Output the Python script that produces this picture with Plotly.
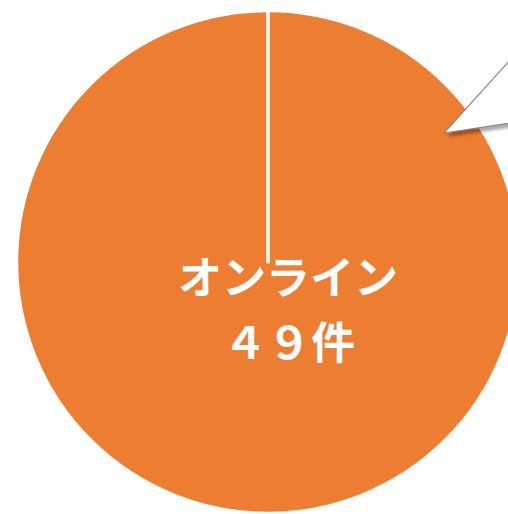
import plotly.graph_objects as go

labels = ["オンライン", "対面"]
values = [49, 0]
unit = "件"
colors = ["#ED7D31", "#A5A5A5"]

W, H = 530, 514
cx, cy, R = 268, 262, 251.5

def px(x):
    return x / W

def py(y):
    return 1 - y / H

fig = go.Figure()
fig.add_trace(go.Pie(
    labels=labels,
    values=values,
    sort=False,
    direction="clockwise",
    rotation=0,
    marker=dict(colors=colors, line=dict(color="white", width=3.5)),
    textinfo="none",
    hoverinfo="label+value",
    showlegend=False,
    domain=dict(x=[px(cx - R), px(cx + R)], y=[py(cy + R), py(cy - R)]),
))

font_face = "Noto Sans CJK JP"
fig.add_annotation(x=px(288), y=py(275), xref="paper", yref="paper",
                   text=f"<b>{labels[0]}</b>", showarrow=False,
                   font=dict(family=font_face, size=44, color="white"))
fig.add_annotation(x=px(289), y=py(340), xref="paper", yref="paper",
                   text=f"<b>{values[0]:d}</b>".replace("4", "４").replace("9", "９") + f"<b>{unit}</b>",
                   showarrow=False,
                   font=dict(family=font_face, size=44, color="white"))

# callout tail (speech bubble pointer of off-canvas label)
def path(pts):
    s = "M " + " L ".join(f"{px(x)},{py(y)}" for x, y in pts) + " Z"
    return s

for off, a in [((5, 6), 0.06), ((4, 5), 0.08), ((3, 4), 0.10), ((2, 3), 0.12)]:
    dx, dy = off
    fig.add_shape(type="path", xref="paper", yref="paper",
                  path=path([(444 + dx, 133 + dy), (530 + dx, 38 + dy), (530 + dx, 120 + dy)]),
                  fillcolor=f"rgba(0,0,0,{a})", line=dict(width=0), layer="above")
fig.add_shape(type="path", xref="paper", yref="paper",
              path=path([(444, 133), (530, 38), (530, 120)]),
              fillcolor="white", line=dict(color="#8a8a8a", width=1.2), layer="above")

fig.update_layout(
    width=W, height=H, autosize=False,
    margin=dict(l=0, r=0, t=0, b=0),
    paper_bgcolor="white", plot_bgcolor="white",
)

fig.write_html("out.html", post_script=(
    "document.body.style.margin='0';"
    "document.body.style.overflow='hidden';"
    "document.documentElement.style.overflow='hidden';"
))
